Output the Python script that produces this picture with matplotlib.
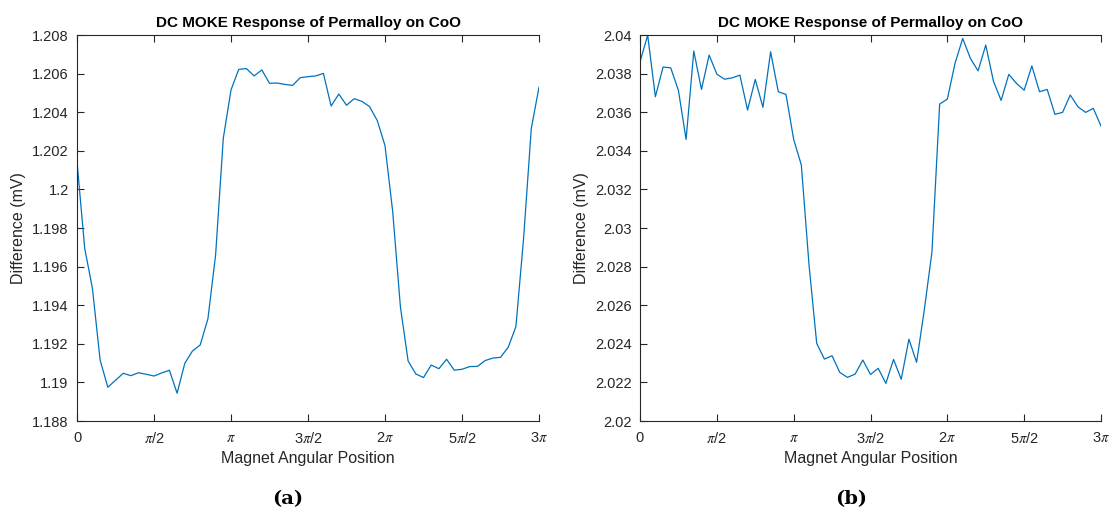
import numpy as np
import matplotlib
matplotlib.use("Agg")
import matplotlib.pyplot as plt

plt.rcParams['font.family'] = ['Liberation Sans', 'DejaVu Sans']
plt.rcParams['mathtext.fontset'] = 'stix'

# ---- data ----
n_points = 61
angle_max = 3 * np.pi

diff_a = [1.20144, 1.19695, 1.19488, 1.19116, 1.18975, 1.19011, 1.19047, 1.19035,
          1.19050, 1.19042, 1.19033, 1.19049, 1.19063, 1.18944, 1.19099, 1.19163,
          1.19194, 1.19329, 1.19660, 1.20265, 1.20515, 1.20622, 1.20626, 1.20588,
          1.20619, 1.20550, 1.20551, 1.20544, 1.20539, 1.20579, 1.20584, 1.20588,
          1.20601, 1.20432, 1.20494, 1.20436, 1.20470, 1.20456, 1.20429, 1.20356,
          1.20227, 1.19885, 1.19392, 1.19111, 1.19044, 1.19025, 1.19090, 1.19071,
          1.19120, 1.19063, 1.19068, 1.19082, 1.19083, 1.19113, 1.19126, 1.19130,
          1.19182, 1.19289, 1.19747, 1.20316, 1.20529]

diff_b = [2.03861, 2.03999, 2.03680, 2.03834, 2.03830, 2.03713, 2.03459, 2.03917,
          2.03718, 2.03896, 2.03797, 2.03771, 2.03778, 2.03792, 2.03611, 2.03770,
          2.03625, 2.03913, 2.03706, 2.03692, 2.03459, 2.03326, 2.02808, 2.02402,
          2.02321, 2.02338, 2.02252, 2.02226, 2.02243, 2.02316, 2.02241, 2.02273,
          2.02195, 2.02319, 2.02216, 2.02424, 2.02304, 2.02575, 2.02877, 2.03642,
          2.03668, 2.03853, 2.03982, 2.03879, 2.03814, 2.03948, 2.03761, 2.03661,
          2.03796, 2.03749, 2.03714, 2.03840, 2.03706, 2.03718, 2.03589, 2.03599,
          2.03689, 2.03628, 2.03599, 2.03620, 2.03528]

x_tick_vals = [0, np.pi / 2, np.pi, 3 * np.pi / 2, 2 * np.pi, 5 * np.pi / 2, 3 * np.pi]
x_tick_labels = ['0', r'$\pi$/2', r'$\pi$', r'3$\pi$/2', r'2$\pi$', r'5$\pi$/2', r'3$\pi$']

yticks_a = [1.188, 1.19, 1.192, 1.194, 1.196, 1.198, 1.2, 1.202, 1.204, 1.206, 1.208]
ylabels_a = ['1.188', '1.19', '1.192', '1.194', '1.196', '1.198', '1.2', '1.202', '1.204', '1.206', '1.208']
yticks_b = [2.02, 2.022, 2.024, 2.026, 2.028, 2.03, 2.032, 2.034, 2.036, 2.038, 2.04]
ylabels_b = ['2.02', '2.022', '2.024', '2.026', '2.028', '2.03', '2.032', '2.034', '2.036', '2.038', '2.04']

title = 'DC MOKE Response of Permalloy on CoO'
xlabel = 'Magnet Angular Position'
ylabel = 'Difference (mV)'
captions = ['(a)', '(b)']

angles = np.linspace(0, angle_max, n_points)

W, H = 1119, 511
fig = plt.figure(figsize=(W / 100, H / 100), dpi=100)

axc = '#262626'
line_color = '#0072BD'

def make_ax(x0, x1, y0, y1):
    return fig.add_axes([x0 / W, 1 - y1 / H, (x1 - x0) / W, (y1 - y0) / H])

panels = [
    (make_ax(77, 539, 35, 421), diff_a, yticks_a, ylabels_a),
    (make_ax(640, 1101, 35, 421), diff_b, yticks_b, ylabels_b),
]

for i, (ax, data, yt, yl) in enumerate(panels):
    ax.plot(angles, data, color=line_color, lw=0.9)
    ax.set_xlim(0, angle_max)
    ax.set_ylim(yt[0], yt[-1])
    ax.set_xticks(x_tick_vals)
    ax.set_xticklabels(x_tick_labels)
    ax.set_yticks(yt)
    ax.set_yticklabels(yl)
    ax.tick_params(direction='in', length=5, width=0.8, colors=axc,
                   labelsize=10.5, top=True, right=False, pad=6)
    ax.tick_params(axis='x', pad=7)
    for s in ['left', 'bottom', 'top']:
        ax.spines[s].set_color(axc)
        ax.spines[s].set_linewidth(0.8)
    ax.spines['right'].set_visible(False)
    ax.set_title(title, fontsize=11, fontweight='bold', color='black', pad=6)
    ax.set_xlabel(xlabel, fontsize=11.5, color=axc, labelpad=4)
    ax.set_ylabel(ylabel, fontsize=11.5, color=axc, labelpad=4)

fig.text(288 / W, 1 - 499 / H, captions[0], ha='center', va='center',
         fontsize=14, fontweight='bold', family='DejaVu Serif')
fig.text(851 / W, 1 - 499 / H, captions[1], ha='center', va='center',
         fontsize=14, fontweight='bold', family='DejaVu Serif')

fig.savefig('out.png', dpi=100)
